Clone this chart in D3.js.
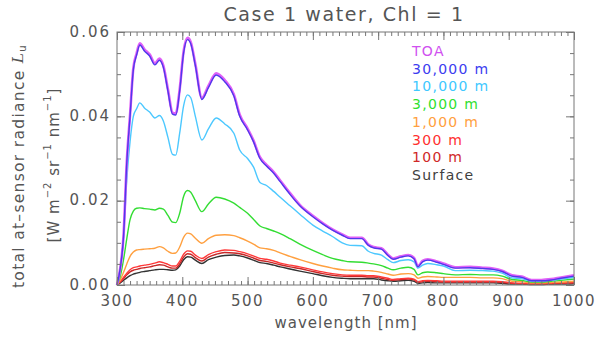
<!DOCTYPE html>
<html>
<head>
<meta charset="utf-8">
<script src="https://cdn.jsdelivr.net/npm/d3@7"></script>
<style>
  body { margin: 0; background: #fff; }
  svg text { font-family: "DejaVu Sans", sans-serif; }
</style>
</head>
<body>
<svg id="chart" width="598" height="337"></svg>
<script>
// wavelength grid [nm]
const wavelengths = [300, 305, 310, 315, 320, 325, 330, 335, 342, 350, 358, 365, 371, 378, 385, 390, 396, 402, 408, 413, 420, 430, 440, 452, 465, 479, 488, 500, 509, 519, 529, 540, 550, 565, 580, 600, 615, 630, 645, 657, 675, 685, 693, 705, 715, 723, 735, 746, 755, 761, 768, 776, 790, 800, 818, 841, 860, 876, 890, 905, 920, 935, 950, 965, 980, 1000];

const toa = [0.0, 0.004, 0.0117, 0.0293, 0.0404, 0.0514, 0.0549, 0.0573, 0.0559, 0.0547, 0.0526, 0.0537, 0.0520, 0.0464, 0.0409, 0.0407, 0.0464, 0.0554, 0.0586, 0.0576, 0.0524, 0.0444, 0.0472, 0.0502, 0.0486, 0.0452, 0.0404, 0.0371, 0.0343, 0.0303, 0.0285, 0.0268, 0.0248, 0.0218, 0.0190, 0.0164, 0.0147, 0.0132, 0.0120, 0.0112, 0.0112, 0.0096, 0.0090, 0.0087, 0.0072, 0.0063, 0.0068, 0.0071, 0.0064, 0.0045, 0.0057, 0.0061, 0.0056, 0.0051, 0.0042, 0.0043, 0.0041, 0.0039, 0.0034, 0.0023, 0.0020, 0.0012, 0.0012, 0.0014, 0.0018, 0.0023];
const alt30000 = [0.0, 0.004, 0.0115, 0.029, 0.040, 0.051, 0.0545, 0.0569, 0.0555, 0.0543, 0.0522, 0.0533, 0.0516, 0.046, 0.0405, 0.0403, 0.046, 0.055, 0.0582, 0.0572, 0.052, 0.0440, 0.0468, 0.0498, 0.0482, 0.0448, 0.0400, 0.0368, 0.0340, 0.0300, 0.0282, 0.0265, 0.0245, 0.0215, 0.0188, 0.0162, 0.0145, 0.0130, 0.0118, 0.0110, 0.0110, 0.0094, 0.0088, 0.0085, 0.0070, 0.0061, 0.0066, 0.0069, 0.0062, 0.0043, 0.0055, 0.0059, 0.0054, 0.0049, 0.0040, 0.0041, 0.0039, 0.0037, 0.0032, 0.0021, 0.0018, 0.0010, 0.0010, 0.0012, 0.0016, 0.0021];
const alt10000 = [0.0, 0.004, 0.011, 0.025, 0.034, 0.040, 0.0418, 0.0432, 0.0420, 0.0410, 0.0396, 0.0402, 0.0389, 0.035, 0.0310, 0.0308, 0.036, 0.0425, 0.0451, 0.0444, 0.040, 0.0344, 0.0370, 0.0396, 0.0382, 0.0360, 0.0320, 0.0300, 0.0280, 0.0243, 0.0236, 0.0222, 0.0208, 0.0188, 0.0168, 0.0142, 0.0128, 0.0115, 0.0100, 0.0094, 0.0093, 0.0080, 0.0075, 0.0071, 0.0060, 0.0053, 0.0058, 0.0060, 0.0055, 0.0040, 0.0047, 0.0051, 0.0048, 0.0045, 0.0034, 0.0035, 0.0034, 0.0033, 0.0028, 0.0017, 0.0015, 0.0009, 0.0009, 0.0011, 0.0014, 0.0018];
const alt3000 = [0.0, 0.002, 0.006, 0.011, 0.0155, 0.0175, 0.0182, 0.0183, 0.0181, 0.0180, 0.0178, 0.0182, 0.0180, 0.0165, 0.0149, 0.0148, 0.0170, 0.0210, 0.0224, 0.0220, 0.0200, 0.0174, 0.0192, 0.0208, 0.0204, 0.0194, 0.0184, 0.0170, 0.0156, 0.0140, 0.0134, 0.0128, 0.0122, 0.0110, 0.0097, 0.0082, 0.0072, 0.0063, 0.0058, 0.0055, 0.0054, 0.0052, 0.0050, 0.0046, 0.0040, 0.0036, 0.0040, 0.0042, 0.0037, 0.0024, 0.0029, 0.0031, 0.0029, 0.0027, 0.0024, 0.0025, 0.0024, 0.0024, 0.0021, 0.0013, 0.0011, 0.0007, 0.0007, 0.0009, 0.0011, 0.0014];
const alt1000 = [0.0, 0.0012, 0.003, 0.005, 0.0068, 0.0078, 0.0083, 0.0084, 0.0085, 0.0086, 0.0087, 0.0091, 0.0088, 0.0080, 0.0075, 0.0076, 0.0090, 0.0113, 0.0123, 0.0121, 0.0111, 0.0099, 0.0110, 0.0118, 0.0119, 0.0117, 0.0112, 0.0104, 0.0097, 0.0088, 0.0086, 0.0082, 0.0076, 0.0068, 0.0060, 0.0051, 0.0045, 0.0040, 0.0036, 0.0035, 0.0034, 0.0034, 0.0033, 0.0030, 0.0026, 0.0023, 0.0026, 0.0027, 0.0024, 0.0016, 0.0019, 0.0020, 0.0019, 0.0018, 0.0018, 0.0018, 0.0017, 0.0017, 0.0015, 0.0009, 0.0008, 0.0005, 0.0005, 0.0006, 0.0007, 0.0009];
const alt300 = [0.0, 0.0008, 0.0018, 0.0028, 0.0036, 0.0041, 0.0043, 0.0045, 0.0047, 0.0049, 0.0052, 0.0055, 0.0053, 0.0049, 0.0045, 0.0045, 0.0056, 0.0073, 0.0081, 0.0080, 0.0071, 0.0063, 0.0072, 0.0079, 0.0083, 0.0082, 0.0079, 0.0074, 0.0069, 0.0063, 0.0061, 0.0057, 0.0052, 0.0047, 0.0043, 0.0036, 0.0031, 0.0027, 0.0024, 0.0023, 0.0023, 0.0022, 0.0022, 0.0019, 0.0016, 0.0013, 0.0015, 0.0016, 0.0014, 0.0008, 0.0010, 0.0011, 0.0010, 0.0009, 0.0009, 0.0009, 0.0009, 0.0009, 0.0008, 0.0005, 0.0004, 0.0003, 0.0003, 0.0004, 0.0005, 0.0006];
const alt100 = [0.0, 0.0007, 0.0015, 0.0024, 0.0031, 0.0035, 0.0037, 0.0039, 0.0041, 0.0043, 0.0046, 0.0048, 0.0047, 0.0043, 0.0040, 0.0040, 0.0050, 0.0066, 0.0074, 0.0073, 0.0065, 0.0057, 0.0066, 0.0073, 0.0077, 0.0076, 0.0074, 0.0069, 0.0064, 0.0058, 0.0056, 0.0052, 0.0048, 0.0043, 0.0039, 0.0032, 0.0027, 0.0023, 0.0021, 0.0020, 0.0020, 0.0019, 0.0019, 0.0016, 0.0013, 0.0011, 0.0013, 0.0014, 0.0012, 0.0006, 0.0008, 0.0009, 0.0008, 0.0007, 0.0007, 0.0007, 0.0007, 0.0007, 0.0006, 0.0004, 0.0003, 0.0002, 0.0002, 0.0003, 0.0004, 0.0005];
const surface = [0.0, 0.0005, 0.0011, 0.0017, 0.0022, 0.0026, 0.0028, 0.0030, 0.0032, 0.0034, 0.0036, 0.0037, 0.0037, 0.0036, 0.0035, 0.0036, 0.0045, 0.0060, 0.0067, 0.0066, 0.0059, 0.0051, 0.0060, 0.0066, 0.0070, 0.0071, 0.0069, 0.0064, 0.0059, 0.0053, 0.0051, 0.0047, 0.0043, 0.0038, 0.0033, 0.0027, 0.0022, 0.0018, 0.0016, 0.0015, 0.0015, 0.0015, 0.0015, 0.0012, 0.0010, 0.0009, 0.0010, 0.0011, 0.0009, 0.0004, 0.0005, 0.0006, 0.0005, 0.0005, 0.0005, 0.0005, 0.0005, 0.0005, 0.0004, 0.0002, 0.0002, 0.0001, 0.0001, 0.0002, 0.0002, 0.0003];

const seriesNames = ["TOA", "30,000 m", "10,000 m", "3,000 m", "1,000 m", "300 m", "100 m", "Surface"];
const seriesValues = [toa, alt30000, alt10000, alt3000, alt1000, alt300, alt100, surface];
const seriesColors = ["#e060f8", "#5038ec", "#4cc8ff", "#33dd33", "#ffa040", "#ff3838", "#c82828", "#333333"];
const legendColors = ["#d050f0", "#3c3cf0", "#40c8ff", "#30e030", "#ffa040", "#ff3030", "#d02828", "#404040"];

const xTicks = [300, 400, 500, 600, 700, 800, 900, 1000];
const yTicks = [0.00, 0.02, 0.04, 0.06];

const svg = d3.select("#chart");
const plotLeft = 117, plotRight = 574, plotTop = 32, plotBottom = 285;

let x = d3.scaleLinear().domain([300, 1000]).range([plotLeft, plotRight]);
let y = d3.scaleLinear().domain([0, 0.06]).range([plotBottom, plotTop]);

const axisColor = "#777";
const labelColor = "#555";

// lines: surface first, TOA just under the 30 km curve so it shows as a fringe
let line = d3.line()
    .x((d, i) => x(wavelengths[i]))
    .y(d => y(d))
    .curve(d3.curveMonotoneX);

let order = [7, 6, 5, 4, 3, 2, 0, 1];
svg.append("g").attr("id", "lines")
    .selectAll("path").data(order).join("path")
    .attr("d", i => line(seriesValues[i]))
    .attr("fill", "none")
    .attr("stroke", i => seriesColors[i])
    .attr("stroke-width", i => i === 0 ? 2.6 : 1.4)
    .attr("stroke-linejoin", "round");

// frame + inward ticks on all four sides
let axes = svg.append("g").attr("id", "axes");
let xMinor = d3.range(300, 1001, 10);
let yMinor = d3.range(0, 0.06001, 0.005);

function tickSet(g, axis, ticks, size){
    g.call(axis.tickValues(ticks).tickSize(size).tickFormat(""))
        .call(s => s.select(".domain").remove())
        .call(s => s.selectAll("line").attr("stroke", axisColor));
}
axes.append("g").attr("transform", `translate(0,${plotBottom})`).call(g => tickSet(g, d3.axisTop(x), xMinor, 4));
axes.append("g").attr("transform", `translate(0,${plotBottom})`).call(g => tickSet(g, d3.axisTop(x), xTicks, 8));
axes.append("g").attr("transform", `translate(0,${plotTop})`).call(g => tickSet(g, d3.axisBottom(x), xMinor, 4));
axes.append("g").attr("transform", `translate(0,${plotTop})`).call(g => tickSet(g, d3.axisBottom(x), xTicks, 8));
axes.append("g").attr("transform", `translate(${plotLeft},0)`).call(g => tickSet(g, d3.axisRight(y), yMinor, 4));
axes.append("g").attr("transform", `translate(${plotLeft},0)`).call(g => tickSet(g, d3.axisRight(y), yTicks, 8));
axes.append("g").attr("transform", `translate(${plotRight},0)`).call(g => tickSet(g, d3.axisLeft(y), yMinor, 4));
axes.append("g").attr("transform", `translate(${plotRight},0)`).call(g => tickSet(g, d3.axisLeft(y), yTicks, 8));
axes.append("rect")
    .attr("x", plotLeft).attr("y", plotTop)
    .attr("width", plotRight - plotLeft).attr("height", plotBottom - plotTop)
    .attr("fill", "none").attr("stroke", axisColor).attr("stroke-width", 1);

// tick labels
svg.append("g").selectAll("text").data(xTicks).join("text")
    .attr("x", d => x(d)).attr("y", 301)
    .attr("text-anchor", "middle").attr("dominant-baseline", "middle")
    .attr("fill", labelColor).style("font-size", "15px").style("letter-spacing", "1.5px")
    .text(d => d);
svg.append("g").selectAll("text").data(yTicks).join("text")
    .attr("x", plotLeft - 6).attr("y", d => y(d))
    .attr("text-anchor", "end").attr("dominant-baseline", "middle")
    .attr("fill", labelColor).style("font-size", "15px").style("letter-spacing", "2px")
    .text(d => d3.format(".2f")(d));

// title and axis titles
svg.append("text")
    .attr("x", 344).attr("y", 15)
    .attr("text-anchor", "middle").attr("dominant-baseline", "middle")
    .attr("fill", labelColor).style("font-size", "19px").style("letter-spacing", "1.6px")
    .text("Case 1 water, Chl = 1");

svg.append("text")
    .attr("x", 346).attr("y", 323)
    .attr("text-anchor", "middle").attr("dominant-baseline", "middle")
    .attr("fill", labelColor).style("font-size", "15px").style("letter-spacing", "1px")
    .text("wavelength [nm]");

let yl1 = svg.append("text")
    .attr("transform", "translate(19,166) rotate(-90)")
    .attr("text-anchor", "middle").attr("dominant-baseline", "middle")
    .attr("fill", labelColor).style("font-size", "15.5px").style("letter-spacing", "1.3px");
yl1.append("tspan").text("total at\u2013sensor radiance ");
yl1.append("tspan").text("L").style("font-family", "DejaVu Serif").style("font-style", "italic");
yl1.append("tspan").text("u").style("font-size", "10px").attr("dy", 4);

let yl2 = svg.append("text")
    .attr("transform", "translate(54,165) rotate(-90)")
    .attr("text-anchor", "middle").attr("dominant-baseline", "middle")
    .attr("fill", labelColor).style("font-size", "15px").style("letter-spacing", "1px");
yl2.append("tspan").text("[W m");
yl2.append("tspan").text("\u22122").style("font-size", "10px").attr("dy", -6);
yl2.append("tspan").text(" sr").attr("dy", 6);
yl2.append("tspan").text("\u22121").style("font-size", "10px").attr("dy", -6);
yl2.append("tspan").text(" nm").attr("dy", 6);
yl2.append("tspan").text("\u22121").style("font-size", "10px").attr("dy", -6);
yl2.append("tspan").text("]").attr("dy", 6);

// legend
svg.append("g").attr("id", "legend")
    .selectAll("text").data(seriesNames).join("text")
    .attr("x", 412).attr("y", (d, i) => 52 + i * 17.7)
    .attr("dominant-baseline", "middle")
    .attr("fill", (d, i) => legendColors[i])
    .style("font-size", "14px").style("letter-spacing", "1.3px")
    .text(d => d);
</script>
</body>
</html>
